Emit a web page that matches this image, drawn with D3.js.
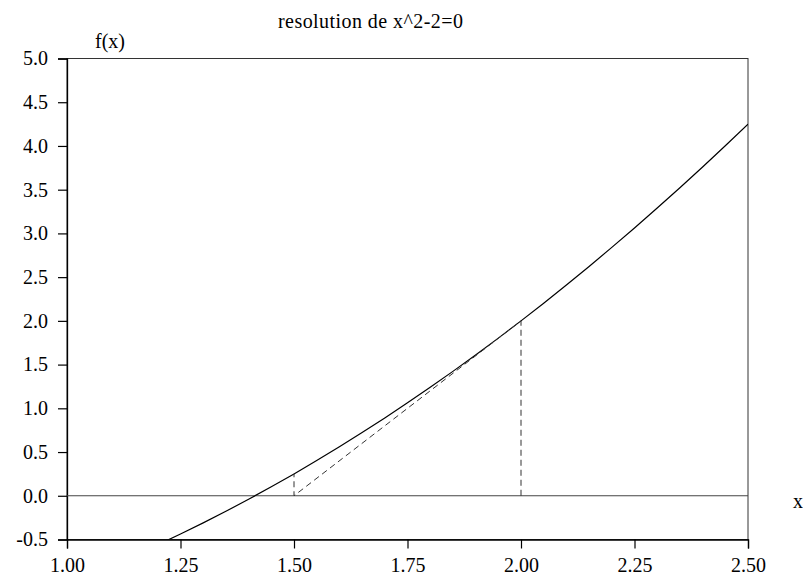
<!DOCTYPE html>
<html>
<head>
<meta charset="utf-8">
<script src="https://cdn.jsdelivr.net/npm/d3@7"></script>
<style>
  body { margin: 0; background: #fff; }
  text { font-family: "Liberation Serif", "Times New Roman", serif; fill: #000; }
</style>
</head>
<body>
<div id="chart"></div>
<script>
// data
var curveX = [1.00, 1.05, 1.10, 1.15, 1.20, 1.25, 1.30, 1.35, 1.40, 1.45, 1.50, 1.55, 1.60, 1.65, 1.70, 1.75,
              1.80, 1.85, 1.90, 1.95, 2.00, 2.05, 2.10, 2.15, 2.20, 2.25, 2.30, 2.35, 2.40, 2.45, 2.50];
var curveY = [-1.0, -0.8975, -0.79, -0.6775, -0.56, -0.4375, -0.31, -0.1775, -0.04, 0.1025, 0.25, 0.4025, 0.56, 0.7225, 0.89, 1.0625,
              1.24, 1.4225, 1.61, 1.8025, 2.0, 2.2025, 2.41, 2.6225, 2.84, 3.0625, 3.29, 3.5225, 3.76, 4.0025, 4.25];
// newton steps (dashed)
var stepX = [2.0, 2.0, 1.5, 1.5];
var stepY = [0.0, 2.0, 0.0, 0.25];
var xTicks = [1.00, 1.25, 1.50, 1.75, 2.00, 2.25, 2.50];
var yTicks = [-0.5, 0.0, 0.5, 1.0, 1.5, 2.0, 2.5, 3.0, 3.5, 4.0, 4.5, 5.0];

var chartW = 803, chartH = 577;
var plotL = 67, plotR = 748, plotT = 58.5, plotB = 539.5;

var svg = d3.select("#chart")
        .append("svg")
        .attr("width", chartW)
        .attr("height", chartH);

var x = d3.scaleLinear().domain([1, 2.5]).range([plotL, plotR]);
var y = d3.scaleLinear().domain([-0.5, 5]).range([plotB, plotT]);

// plain hyphen for negatives, like the original
var locale = d3.formatLocale({decimal: ".", thousands: ",", grouping: [3], currency: ["", ""], minus: "-"});

// clip for the curve
svg.append("clipPath").attr("id", "plot")
        .append("rect")
        .attr("x", plotL).attr("y", plotT)
        .attr("width", plotR - plotL).attr("height", plotB - plotT);

// frame
svg.append("rect")
        .attr("x", plotL).attr("y", plotT)
        .attr("width", plotR - plotL).attr("height", plotB - plotT)
        .attr("fill", "none")
        .attr("stroke", "#333")
        .attr("stroke-width", 1);

// axes
var xAxis = svg.append("g")
        .attr("transform", "translate(0," + plotB + ")")
        .call(d3.axisBottom(x).tickValues(xTicks).tickFormat(locale.format(".2f")).tickSize(9).tickPadding(9));
var yAxis = svg.append("g")
        .attr("transform", "translate(" + plotL + ",0)")
        .call(d3.axisLeft(y).tickValues(yTicks).tickFormat(locale.format(".1f")).tickSize(9).tickPadding(10));
[xAxis, yAxis].forEach(function (a) {
    a.select(".domain").attr("stroke", "#000").attr("stroke-width", 1.3);
    a.selectAll(".tick line").attr("stroke", "#000").attr("stroke-width", 1.2);
    a.selectAll(".tick text")
            .style("font-family", "Liberation Serif, serif")
            .style("font-size", "20px")
            .attr("fill", "#000");
});

// zero line
svg.append("line")
        .attr("x1", x(1)).attr("x2", x(2.5))
        .attr("y1", y(0)).attr("y2", y(0))
        .attr("stroke", "#444")
        .attr("stroke-width", 1.2);

// function curve
var pts = curveX.map(function (d, i) { return [d, curveY[i]]; });
var line = d3.line()
        .x(function (d) { return x(d[0]); })
        .y(function (d) { return y(d[1]); })
        .curve(d3.curveNatural);
svg.append("path")
        .datum(pts)
        .attr("clip-path", "url(#plot)")
        .attr("d", line)
        .attr("fill", "none")
        .attr("stroke", "#000")
        .attr("stroke-width", 1.2);

// newton dashed path
var steps = stepX.map(function (d, i) { return [d, stepY[i]]; });
svg.append("path")
        .datum(steps)
        .attr("d", d3.line().x(function (d) { return x(d[0]); }).y(function (d) { return y(d[1]); }))
        .attr("fill", "none")
        .attr("stroke", "#333")
        .attr("stroke-width", 1)
        .attr("stroke-dasharray", "6,4");

// labels
svg.append("text")
        .attr("x", 278).attr("y", 28)
        .attr("textLength", 185)
        .attr("lengthAdjust", "spacing")
        .style("font-size", "20px")
        .text("resolution de x^2-2=0");
svg.append("text")
        .attr("x", 95).attr("y", 48)
        .style("font-size", "20px")
        .text("f(x)");
svg.append("text")
        .attr("x", 793).attr("y", 508)
        .style("font-size", "20px")
        .text("x");
</script>
</body>
</html>
